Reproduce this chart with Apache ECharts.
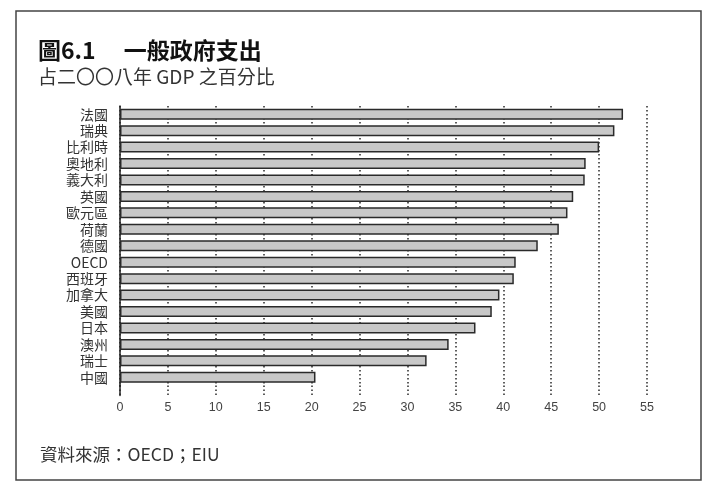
<!DOCTYPE html>
<html><head><meta charset="utf-8">
<script src="https://cdn.jsdelivr.net/npm/echarts@6/dist/echarts.min.js"></script>
<style>html,body{margin:0;padding:0;background:#fff}#c{width:726px;height:492px}</style>
</head><body><div id="c"></div>
<script>
const categories = ['法國','瑞典','比利時','奧地利','義大利','英國','歐元區','荷蘭','德國','OECD','西班牙','加拿大','美國','日本','澳州','瑞士','中國'];
const spending = [52.5, 51.6, 50.0, 48.6, 48.5, 47.3, 46.7, 45.8, 43.6, 41.3, 41.1, 39.6, 38.8, 37.1, 34.3, 32.0, 20.4];
const xTicks = [0,5,10,15,20,25,30,35,40,45,50,55];

const CJK = "'Noto Sans CJK TC','Noto Sans CJK SC',sans-serif";
const LAT = "'Liberation Sans','DejaVu Sans',sans-serif";
const dotted = {type:[1.5,2.5], color:'#2a2a2a', width:1.5};

const chart = echarts.init(document.getElementById('c'), null, {renderer:'canvas'});
chart.setOption({
  backgroundColor:'#fff',
  animation:false,
  title:[
    {text:'圖6.1　 一般政府支出', left:33, top:34, textStyle:{fontFamily:CJK, fontSize:23, fontWeight:'bold', color:'#111'}},
    {text:'占二〇〇八年 GDP 之百分比', left:33, top:62, textStyle:{fontFamily:CJK, fontSize:19, fontWeight:'normal', color:'#333'}},
    {text:'資料來源：OECD；EIU', left:35, top:441, textStyle:{fontFamily:CJK, fontSize:17.5, fontWeight:'normal', color:'#333'}}
  ],
  graphic:[{type:'rect', shape:{x:16, y:11, width:685, height:469}, style:{fill:'none', stroke:'#444', lineWidth:1.5}, z:-1}],
  grid:[
    {left:120, right:79, top:106, bottom:106.5},
    {left:120, right:79, top:385.5, bottom:96.5}
  ],
  xAxis:[
    {gridIndex:0, type:'value', min:0, max:55, interval:5,
     axisLine:{show:false}, axisTick:{show:false}, axisLabel:{show:false},
     splitLine:{show:true, lineStyle:dotted}},
    {gridIndex:1, type:'value', min:0, max:55, interval:5,
     axisLine:{show:false}, axisTick:{show:false},
     axisLabel:{show:true, margin:6, fontFamily:LAT, fontSize:12.5, color:'#444',
       formatter:v => xTicks.includes(v) ? String(v) : ''},
     splitLine:{show:true, lineStyle:dotted}}
  ],
  yAxis:[
    {gridIndex:0, type:'category', data:categories, inverse:true,
     axisLine:{show:true, lineStyle:{color:'#222', width:1.5}}, axisTick:{show:false},
     axisLabel:{interval:0, margin:12, fontFamily:CJK, fontSize:14, lineHeight:16, color:'#333'}},
    {gridIndex:1, type:'category', data:[''],
     axisLine:{show:true, lineStyle:{color:'#222', width:1.5}}, axisTick:{show:false}, axisLabel:{show:false}}
  ],
  series:[{
    type:'bar', xAxisIndex:0, yAxisIndex:0, data:spending, barWidth:11,
    itemStyle:{color:'#c8c8c8', borderColor:'#2a2a2a', borderWidth:1.5},
    z:3
  }]
});
</script></body></html>
